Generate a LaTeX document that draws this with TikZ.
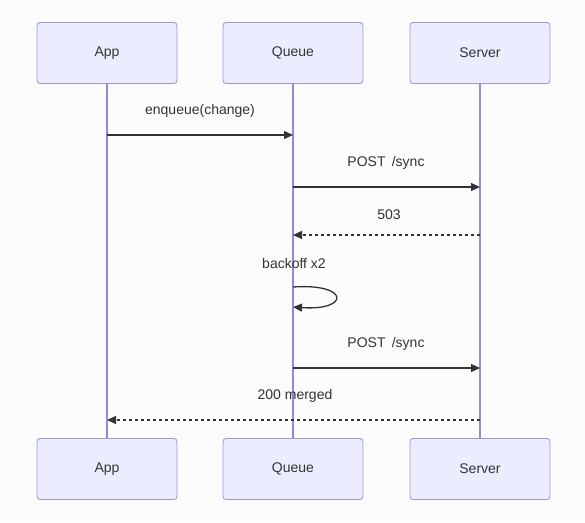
\documentclass[tikz,border=0pt]{standalone}
\usepackage{fontspec}
\setmainfont{Liberation Sans}
\usetikzlibrary{arrows.meta}
\definecolor{actfill}{HTML}{ECECFF}
\definecolor{actdraw}{HTML}{A593D6}
\definecolor{lifecol}{HTML}{9A86D2}
\definecolor{msgcol}{HTML}{333333}
\definecolor{bgcol}{HTML}{FCFCFC}
\begin{document}
\begin{tikzpicture}[x=1pt,y=-1pt,
  actor/.style={draw=actdraw,fill=actfill,rounded corners=3pt,line width=0.9pt,
    minimum width=140pt,minimum height=61pt,inner sep=0pt,font=\fontsize{14}{16}\selectfont,text=msgcol},
  lifeline/.style={draw=lifecol,line width=1.6pt},
  msg/.style={draw=msgcol,line width=1.3pt,-{Triangle[length=9pt,width=8pt]}},
  reply/.style={msg,dash pattern=on 3pt off 3pt},
  lbl/.style={font=\fontsize{14}{16}\selectfont,text=msgcol,inner sep=0pt}]
\useasboundingbox (0,0) rectangle (585,522);
\fill[bgcol] (0,0) rectangle (585,522);
% actors
\node[actor] (appT) at (107,53) {App};
\node[actor] (queT) at (293,53) {Queue};
\node[actor] (srvT) at (480,53) {Server};
\node[actor] (appB) at (107,469) {App};
\node[actor] (queB) at (293,469) {Queue};
\node[actor] (srvB) at (480,469) {Server};
% lifelines
\draw[lifeline] (appT.south) -- (appB.north);
\draw[lifeline] (queT.south) -- (queB.north);
\draw[lifeline] (srvT.south) -- (srvB.north);
% message anchor points
\coordinate (a1) at (107,135); \coordinate (q1) at (293,135);
\coordinate (q2) at (293,187); \coordinate (s2) at (480,187);
\coordinate (s3) at (480,235); \coordinate (q3) at (293,235);
\coordinate (q4) at (293,287); \coordinate (q5) at (293,307);
\coordinate (q6) at (293,368); \coordinate (s6) at (480,368);
\coordinate (s7) at (480,420); \coordinate (a7) at (107,420);
% messages
\draw[msg] (a1) -- (q1);
\node[lbl] (l1) at (200,111) {enqueue(change)};
\draw[msg] (q2) -- (s2);
\node[lbl] (l2) at (386,163) {POST\ \,/sync};
\draw[reply] (s3) -- (q3);
\node[lbl] (l3) at (389,215) {503};
\draw[msg] (q4) .. controls (350,283) and (350,311) .. (q5);
\node[lbl] (l4) at (294,263) {backoff x2};
\draw[msg] (q6) -- (s6);
\node[lbl] (l5) at (386,344) {POST\ \,/sync};
\draw[reply] (s7) -- (a7);
\node[lbl] (l6) at (295,396) {200 merged};
\end{tikzpicture}
\end{document}
